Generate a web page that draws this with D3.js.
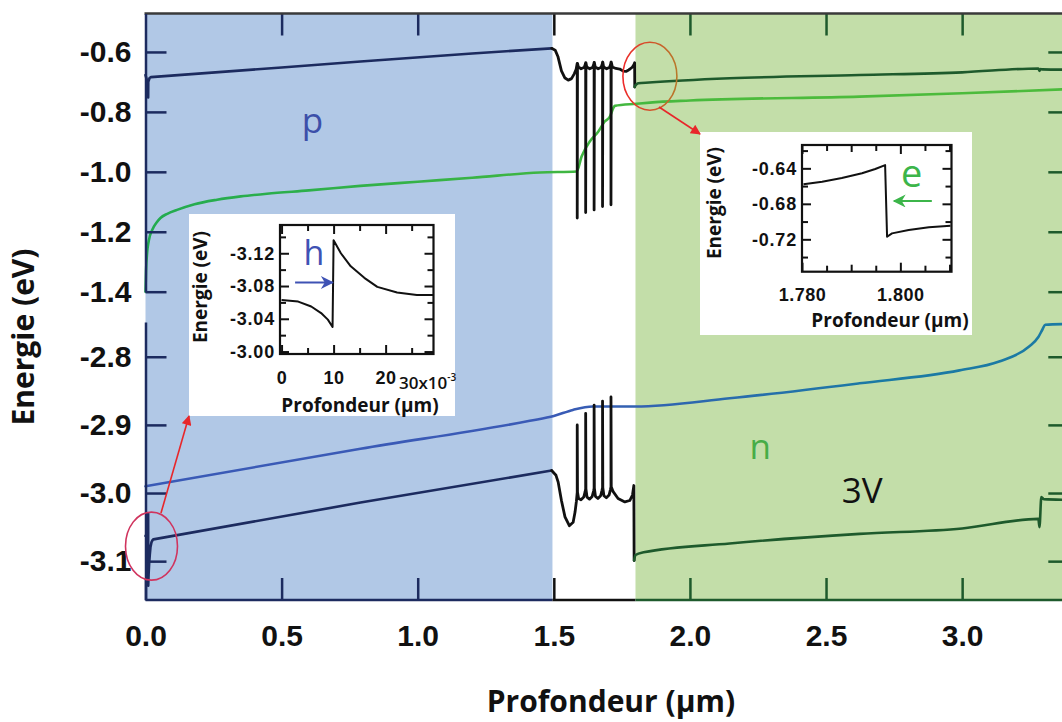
<!DOCTYPE html>
<html><head><meta charset="utf-8">
<script src="https://cdn.jsdelivr.net/npm/d3@7"></script>
<style>
body{margin:0;background:#fff;}
svg{display:block;font-family:"Open Sans",sans-serif;}
</style></head><body><svg id="c" width="1062" height="722"></svg>
<script>
// ---------- data ----------
const xTicks = [0, 0.5, 1.0, 1.5, 2.0, 2.5, 3.0];
const yTicksUpper = [-0.6, -0.8, -1.0, -1.2, -1.4];
const yTicksLower = [-2.8, -2.9, -3.0, -3.1];
const regionP = [0, 1.495];
const regionJ = [1.495, 1.8];
const regionN = [1.8, 3.39];

// upper panel: conduction band / electron quasi-Fermi level
const ecLeft = [[0,-0.677],[0.004,-0.69],[0.008,-0.713],[0.0098,-0.752],[0.0102,-0.70],[0.015,-0.687],[0.02,-0.684],[0.5,-0.652],[0.79,-0.632],[1.2,-0.605],[1.492,-0.588]];
const ecJunction = [[1.492,-0.588],[1.505,-0.594],[1.515,-0.615],[1.528,-0.663],[1.540,-0.686],[1.553,-0.694],[1.565,-0.689],[1.575,-0.673],[1.582,-0.658],[1.585,-0.643],
 [1.586,-0.638],[1.586,-1.154],[1.587,-0.638],[1.590,-0.650],[1.600,-0.656],[1.612,-0.651],[1.616,-0.640],
 [1.617,-0.636],[1.617,-1.136],[1.618,-0.636],[1.621,-0.650],[1.632,-0.656],[1.643,-0.651],[1.647,-0.640],
 [1.648,-0.635],[1.648,-1.127],[1.649,-0.635],[1.652,-0.650],[1.663,-0.656],[1.674,-0.651],[1.678,-0.640],
 [1.679,-0.634],[1.679,-1.116],[1.680,-0.634],[1.683,-0.650],[1.694,-0.656],[1.705,-0.651],[1.709,-0.640],
 [1.710,-0.634],[1.710,-1.110],[1.711,-0.634],[1.715,-0.650],[1.728,-0.655],[1.742,-0.657],[1.755,-0.664],[1.765,-0.665],[1.775,-0.660],[1.780,-0.657],[1.788,-0.651],[1.7935,-0.644],[1.7969,-0.636],[1.7973,-0.717]];
const ecRight = [[1.7973,-0.717],[1.7983,-0.7133],[1.8017,-0.7096],[1.8058,-0.7065],[1.8102,-0.7047],[1.85,-0.702],[2.146,-0.688],[2.623,-0.677],[3.0,-0.668],[3.28,-0.655],[3.284,-0.663],[3.288,-0.657],[3.295,-0.658],[3.39,-0.659]];
const efn = [[0,-1.40],[0.002,-1.33],[0.006,-1.27],[0.012,-1.23],[0.025,-1.193],[0.04,-1.17],[0.055,-1.154],[0.08,-1.14],[0.116,-1.127],[0.18,-1.108],[0.263,-1.093],[0.35,-1.082],[0.446,-1.073],[0.6,-1.062],[0.789,-1.047],[1.0,-1.033],[1.2,-1.02],[1.449,-1.002],[1.584,-0.999],[1.602,-0.949],[1.632,-0.899],[1.663,-0.866],[1.687,-0.832],[1.706,-0.816],[1.718,-0.788],[1.724,-0.78],[1.804,-0.773],[1.853,-0.769],[2.0,-0.762],[2.623,-0.749],[3.0,-0.738],[3.39,-0.724]];

// lower panel: valence band / hole quasi-Fermi level
const evLeft = [[0,-3.063],[0.0032,-3.061],[0.0057,-3.055],[0.0076,-3.047],[0.0089,-3.039],[0.0098,-3.030],[0.0100,-3.136],[0.0114,-3.120],[0.0133,-3.104],[0.0159,-3.090],[0.0184,-3.079],[0.0222,-3.072],[0.026,-3.069],[0.029,-3.068],[0.79,-3.014],[1.492,-2.967]];
const evJunction = [[1.492,-2.967],[1.508,-2.974],[1.516,-2.984],[1.528,-3.011],[1.541,-3.035],[1.557,-3.048],[1.571,-3.043],[1.578,-3.028],[1.583,-3.012],
 [1.586,-2.999],[1.586,-2.900],[1.587,-2.999],[1.591,-3.008],[1.600,-3.010],[1.610,-3.006],[1.615,-2.998],
 [1.617,-2.994],[1.617,-2.883],[1.618,-2.994],[1.622,-3.006],[1.631,-3.009],[1.641,-3.005],[1.646,-2.997],
 [1.648,-2.993],[1.648,-2.871],[1.649,-2.993],[1.653,-3.005],[1.662,-3.008],[1.672,-3.004],[1.677,-2.996],
 [1.679,-2.992],[1.679,-2.865],[1.680,-2.992],[1.684,-3.004],[1.693,-3.007],[1.703,-3.003],[1.708,-2.995],
 [1.710,-2.991],[1.710,-2.859],[1.711,-2.991],[1.718,-2.998],[1.736,-3.008],[1.761,-3.013],[1.779,-3.011],[1.789,-3.003],[1.794,-2.989],[1.795,-3.099]];
const evRight = [[1.795,-3.099],[1.800,-3.091],[1.830,-3.087],[2.146,-3.074],[2.623,-3.060],[3.000,-3.052],[3.280,-3.038],[3.284,-3.050],[3.291,-3.006],[3.300,-3.009],[3.390,-3.010]];
const efp = [[0,-2.990],[0.79,-2.935],[1.412,-2.894],[1.50,-2.887],[1.570,-2.878],[1.643,-2.873],[1.80,-2.873],[2.146,-2.861],[2.623,-2.839],[2.99,-2.820],[3.136,-2.807],[3.246,-2.785],[3.28,-2.771],[3.295,-2.760],[3.305,-2.753],[3.39,-2.752]];

// inset 1 (hole barrier at p contact), x in 1e-3 µm
const inset1Curve = [[0,-3.063],[3.2,-3.061],[5.7,-3.055],[7.6,-3.047],[8.9,-3.039],[9.8,-3.030],[10.0,-3.136],[11.4,-3.120],[13.3,-3.104],[15.9,-3.090],[18.4,-3.079],[22.2,-3.072],[26.0,-3.069],[29.2,-3.069]];
const inset1XMajor = [0, 10, 20];
const inset1XMinor = [5, 15, 25];
const inset1YMajor = [-3.12, -3.08, -3.04, -3.00];
const inset1YMinor = [-3.14, -3.10, -3.06, -3.02];
// inset 2 (electron barrier at n side)
const inset2Curve = [[1.7803,-0.658],[1.7841,-0.655],[1.7881,-0.651],[1.7922,-0.6456],[1.7949,-0.6408],[1.7969,-0.6363],[1.7973,-0.7171],[1.7983,-0.7133],[1.8017,-0.7096],[1.8058,-0.7065],[1.8102,-0.7047]];
const inset2XMajor = [1.780, 1.800];
const inset2XMid = [1.790, 1.810];
const inset2XMinor = [1.785, 1.795, 1.805];
const inset2YMajor = [-0.64, -0.68, -0.72];
const inset2YMinor = [-0.62, -0.66, -0.70, -0.74];

// ---------- styles ----------
const NAVY = "#1c2b5f", DKGREEN = "#1e5a2c", BLACK = "#111111";
const BG_P = "#b1c8e6", BG_N = "#c3dea9";

const svg = d3.select("#c");
const defs = svg.append("defs");

const x = d3.scaleLinear().domain([0, 3.39]).range([145.5, 1068.3]);
const yU = d3.scaleLinear().domain([-1.4, -0.4717]).range([291.7, 13.5]);
const yL = d3.scaleLinear().domain([-3.157, -2.749]).range([600, 322]);
const TOP = 13.5, BOT = 600;

defs.append("clipPath").attr("id","clipU").append("rect").attr("x",140).attr("y",TOP).attr("width",940).attr("height",281);
defs.append("clipPath").attr("id","clipL").append("rect").attr("x",140).attr("y",320).attr("width",940).attr("height",BOT-320);

const gGreen = defs.append("linearGradient").attr("id","gGreen").attr("gradientUnits","userSpaceOnUse")
  .attr("x1",x(0)).attr("x2",x(2.2)).attr("y1",0).attr("y2",0);
gGreen.append("stop").attr("offset","0").attr("stop-color","#22ab50");
gGreen.append("stop").attr("offset","1").attr("stop-color","#4cbb3c");
const gBlue = defs.append("linearGradient").attr("id","gBlue").attr("gradientUnits","userSpaceOnUse")
  .attr("x1",x(1.5)).attr("x2",x(2.7)).attr("y1",0).attr("y2",0);
gBlue.append("stop").attr("offset","0").attr("stop-color","#3a5ab6");
gBlue.append("stop").attr("offset","1").attr("stop-color","#1b7aa4");
const gEll = defs.append("linearGradient").attr("id","gEll").attr("x1","0").attr("x2","1").attr("y1","0").attr("y2","0");
gEll.append("stop").attr("offset","0").attr("stop-color","#ee2a2a");
gEll.append("stop").attr("offset","1").attr("stop-color","#b8782a");

function marker(id, color, w, h, notch){
  defs.append("marker").attr("id",id).attr("viewBox","0 0 10 10").attr("refX",9).attr("refY",5)
    .attr("markerWidth",w).attr("markerHeight",h).attr("markerUnits","userSpaceOnUse").attr("orient","auto")
    .append("path").attr("d", notch ? "M0,0 L10,5 L0,10 L3,5 Z" : "M0,0 L10,5 L0,10 Z").attr("fill",color);
}
marker("aRed","#e8262a",12,10,false);
marker("aBlue","#3f52b4",16,13,true);
marker("aGreen","#3cb54a",16,13,true);

// backgrounds
svg.append("rect").attr("x",x(regionP[0])).attr("y",TOP).attr("width",x(regionP[1])-x(regionP[0])).attr("height",BOT-TOP).attr("fill",BG_P);
svg.append("rect").attr("x",x(regionN[0])).attr("y",TOP).attr("width",x(regionN[1])-x(regionN[0])).attr("height",BOT-TOP).attr("fill",BG_N);

// curves
const lineU = d3.line().x(d=>x(d[0])).y(d=>yU(d[1]));
const lineL = d3.line().x(d=>x(d[0])).y(d=>yL(d[1]));
const lineUs = d3.line().x(d=>x(d[0])).y(d=>yU(d[1])).curve(d3.curveMonotoneX);
const lineLs = d3.line().x(d=>x(d[0])).y(d=>yL(d[1])).curve(d3.curveMonotoneX);
const gU = svg.append("g").attr("clip-path","url(#clipU)");
const gL = svg.append("g").attr("clip-path","url(#clipL)");
function draw(g, gen, data, color, w){
  g.append("path").datum(data).attr("d",gen).attr("fill","none").attr("stroke",color)
   .attr("stroke-width",w).attr("stroke-linejoin","round").attr("stroke-linecap","round");
}
draw(gU, lineUs, efn, "url(#gGreen)", 2.6);
draw(gU, lineU, ecLeft, NAVY, 2.6);
draw(gU, lineU, ecJunction, BLACK, 2.8);
draw(gU, lineUs, ecRight, DKGREEN, 2.6);
draw(gL, lineLs, efp, "url(#gBlue)", 2.6);
draw(gL, lineL, evLeft, NAVY, 2.6);
draw(gL, lineL, evJunction, BLACK, 2.8);
draw(gL, lineLs, evRight, DKGREEN, 2.6);

// region colour helper for frame/ticks
const regionColor = v => v < regionP[1] ? NAVY : (v < regionN[0] ? BLACK : DKGREEN);

// bottom axis
const ax = svg.append("g").attr("transform",`translate(0,${BOT})`)
  .call(d3.axisBottom(x).tickValues(xTicks).tickSizeInner(-22).tickSizeOuter(0).tickPadding(25).tickFormat(d=>d.toFixed(1)));
ax.select(".domain").remove();
ax.selectAll(".tick line").attr("stroke",d=>regionColor(d)).attr("stroke-width",2.5);
ax.selectAll(".tick text").attr("fill","#111").style("font-size","30px").style("font-weight","700").attr("dy","0.71em");
[regionP, regionJ, regionN].forEach(r=>{
  svg.append("line").attr("x1",x(r[0])).attr("x2",x(r[1])).attr("y1",BOT).attr("y2",BOT)
    .attr("stroke",regionColor((r[0]+r[1])/2)).attr("stroke-width",2.5);
});
// top axis
const axT = svg.append("g").attr("transform",`translate(0,${TOP})`)
  .call(d3.axisTop(x).tickValues(xTicks.slice(1)).tickSizeInner(-22).tickSizeOuter(0).tickFormat(""));
axT.select(".domain").remove();
axT.selectAll(".tick line").attr("stroke",d=>regionColor(d)).attr("stroke-width",2.5);
svg.append("line").attr("x1",x(0)-1).attr("x2",1062).attr("y1",TOP).attr("y2",TOP).attr("stroke","#3a3a3a").attr("stroke-width",2.5);

// left axes (broken)
function leftAxis(scale, ticks){
  const g = svg.append("g").attr("transform",`translate(${x(0)},0)`)
    .call(d3.axisLeft(scale).tickValues(ticks).tickSizeInner(-21).tickSizeOuter(0).tickPadding(14).tickFormat(d=>d.toFixed(1)));
  g.select(".domain").attr("stroke",NAVY).attr("stroke-width",2.5);
  g.selectAll(".tick line").attr("stroke",NAVY).attr("stroke-width",2.5);
  g.selectAll(".tick text").attr("fill","#111").style("font-size","30px").style("font-weight","700");
}
leftAxis(yU, yTicksUpper);
leftAxis(yL, yTicksLower);
// right axes (mirror ticks)
function rightAxis(scale, ticks){
  const g = svg.append("g").attr("transform",`translate(${x(3.39)},0)`)
    .call(d3.axisRight(scale).tickValues(ticks).tickSizeInner(-20).tickSizeOuter(0).tickFormat(""));
  g.select(".domain").attr("stroke",DKGREEN).attr("stroke-width",2.5);
  g.selectAll(".tick line").attr("stroke",DKGREEN).attr("stroke-width",2.5);
}
rightAxis(yU, yTicksUpper);
rightAxis(yL, yTicksLower);

// axis titles
svg.append("text").attr("transform","translate(34,337) rotate(-90)").attr("text-anchor","middle")
  .style("font-size","30px").style("font-weight","700").attr("fill","#111").text("Energie (eV)");
svg.append("text").attr("x",(x(0)+x(3.39))/2+4).attr("y",712).attr("text-anchor","middle")
  .style("font-size","30px").style("font-weight","700").attr("fill","#111").text("Profondeur (µm)");

// region labels
svg.append("text").attr("x",x(0.613)).attr("y",133).attr("text-anchor","middle").style("font-size","35px").attr("fill","#3c4fa9").text("p");
svg.append("text").attr("x",x(2.258)).attr("y",459).attr("text-anchor","middle").style("font-size","35px").attr("fill","#47ad47").text("n");
svg.append("text").attr("x",x(2.633)).attr("y",503).attr("text-anchor","middle").style("font-size","35px").attr("fill","#111").text("3V");

// ---------- insets ----------
function inset(cfg){
  const g = svg.append("g");
  g.append("rect").attr("x",cfg.box[0]).attr("y",cfg.box[1]).attr("width",cfg.box[2]).attr("height",cfg.box[3]).attr("fill","#fff");
  const ix = d3.scaleLinear().domain(cfg.xd).range(cfg.xr);
  const iy = d3.scaleLinear().domain(cfg.yd).range(cfg.yr);
  const [x0,x1] = cfg.xr, [y0,y1] = cfg.yr;
  const tickStyle = sel => { sel.select(".domain").remove(); sel.selectAll(".tick line").attr("stroke","#111").attr("stroke-width",2); };
  const sets = [[cfg.xMajor,9,true],[cfg.xMid||[],7,false],[cfg.xMinor,6,false]];
  sets.forEach(([vals,len,lab])=>{
    const b = g.append("g").attr("transform",`translate(0,${y1})`)
      .call(d3.axisBottom(ix).tickValues(vals).tickSizeInner(-len).tickSizeOuter(0).tickPadding(17).tickFormat(lab?cfg.xFmt:""));
    tickStyle(b);
    b.selectAll(".tick text").attr("fill","#111").style("font-size","18px").style("font-weight","600").style("letter-spacing","0.5px");
    const t = g.append("g").attr("transform",`translate(0,${y0})`)
      .call(d3.axisTop(ix).tickValues(vals).tickSizeInner(-len).tickSizeOuter(0).tickFormat(""));
    tickStyle(t);
  });
  [[cfg.yMajor,9,true],[cfg.yMinor,6,false]].forEach(([vals,len,lab])=>{
    const l = g.append("g").attr("transform",`translate(${x0},0)`)
      .call(d3.axisLeft(iy).tickValues(vals).tickSizeInner(-len).tickSizeOuter(0).tickPadding(5).tickFormat(lab?cfg.yFmt:""));
    tickStyle(l);
    l.selectAll(".tick text").attr("fill","#111").style("font-size","18px").style("font-weight","600").style("letter-spacing","0.8px");
    const r = g.append("g").attr("transform",`translate(${x1},0)`)
      .call(d3.axisRight(iy).tickValues(vals).tickSizeInner(-len).tickSizeOuter(0).tickFormat(""));
    tickStyle(r);
  });
  g.append("rect").attr("x",x0).attr("y",Math.min(y0,y1)).attr("width",x1-x0).attr("height",Math.abs(y1-y0))
    .attr("fill","none").attr("stroke","#111").attr("stroke-width",2.2);
  g.append("path").datum(cfg.curve).attr("d",d3.line().x(d=>ix(d[0])).y(d=>iy(d[1])))
    .attr("fill","none").attr("stroke","#111").attr("stroke-width",2).attr("stroke-linejoin","round");
  g.append("text").attr("transform",`translate(${cfg.ylab[0]},${cfg.ylab[1]}) rotate(-90)`).attr("text-anchor","middle")
    .style("font-size","19px").style("font-weight","700").attr("fill","#111").text("Energie (eV)");
  g.append("text").attr("x",cfg.xlab[0]).attr("y",cfg.xlab[1]).attr("text-anchor","middle")
    .style("font-size","19px").style("font-weight","700").attr("fill","#111").text("Profondeur (µm)");
  return {g, ix, iy};
}

const in1 = inset({
  box:[189,214,266,202], xd:[-0.3,29.2], xr:[280,433.5], yd:[-3.1545,-2.997], yr:[225,354],
  xMajor:inset1XMajor, xMinor:inset1XMinor, yMajor:inset1YMajor, yMinor:inset1YMinor,
  xFmt:d=>String(d), yFmt:d=>d.toFixed(2), curve:inset1Curve, ylab:[207,287], xlab:[360,412]
});
const lab30 = in1.g.append("text").attr("x",399).attr("y",389).attr("text-anchor","start")
  .style("font-size","17px").style("font-weight","600").attr("fill","#111");
lab30.append("tspan").text("30x10");
lab30.append("tspan").attr("dy","-8").style("font-size","10px").text("-3");
in1.g.append("text").attr("x",in1.ix(6.2)).attr("y",265).attr("text-anchor","middle").style("font-size","34px").attr("fill","#3f52b4").text("h");
in1.g.append("line").attr("x1",in1.ix(2.6)).attr("x2",in1.ix(9.8)).attr("y1",in1.iy(-3.0843)).attr("y2",in1.iy(-3.0843))
  .attr("stroke","#3f52b4").attr("stroke-width",2.2).attr("marker-end","url(#aBlue)");

const in2 = inset({
  box:[700,132,272,203], xd:[1.780,1.8104], xr:[802,951.5], yd:[-0.6137,-0.7565], yr:[145,271.7],
  xMajor:inset2XMajor, xMid:inset2XMid, xMinor:inset2XMinor, yMajor:inset2YMajor, yMinor:inset2YMinor,
  xFmt:d=>d.toFixed(3), yFmt:d=>d.toFixed(2), curve:inset2Curve, ylab:[721,203], xlab:[890,327]
});
in2.g.append("text").attr("x",in2.ix(1.8023)).attr("y",187).attr("text-anchor","middle").style("font-size","38px").attr("fill","#3cb54a").text("e");
in2.g.append("line").attr("x1",in2.ix(1.8064)).attr("x2",in2.ix(1.7987)).attr("y1",in2.iy(-0.6768)).attr("y2",in2.iy(-0.6768))
  .attr("stroke","#3cb54a").attr("stroke-width",2.2).attr("marker-end","url(#aGreen)");

// ---------- red annotations ----------
svg.append("ellipse").attr("cx",x(0.022)).attr("cy",yL(-3.078)).attr("rx",26).attr("ry",34)
  .attr("fill","none").attr("stroke","#d0345e").attr("stroke-width",1.6);
svg.append("line").attr("x1",161).attr("y1",513).attr("x2",189).attr("y2",416)
  .attr("stroke","#e8262a").attr("stroke-width",1.6).attr("marker-end","url(#aRed)");
svg.append("ellipse").attr("cx",x(1.853)).attr("cy",yU(-0.681)).attr("rx",27).attr("ry",34)
  .attr("fill","none").attr("stroke","url(#gEll)").attr("stroke-width",1.6);
svg.append("line").attr("x1",659).attr("y1",107).attr("x2",700).attr("y2",134)
  .attr("stroke","#e8262a").attr("stroke-width",1.6).attr("marker-end","url(#aRed)");
</script></body></html>
